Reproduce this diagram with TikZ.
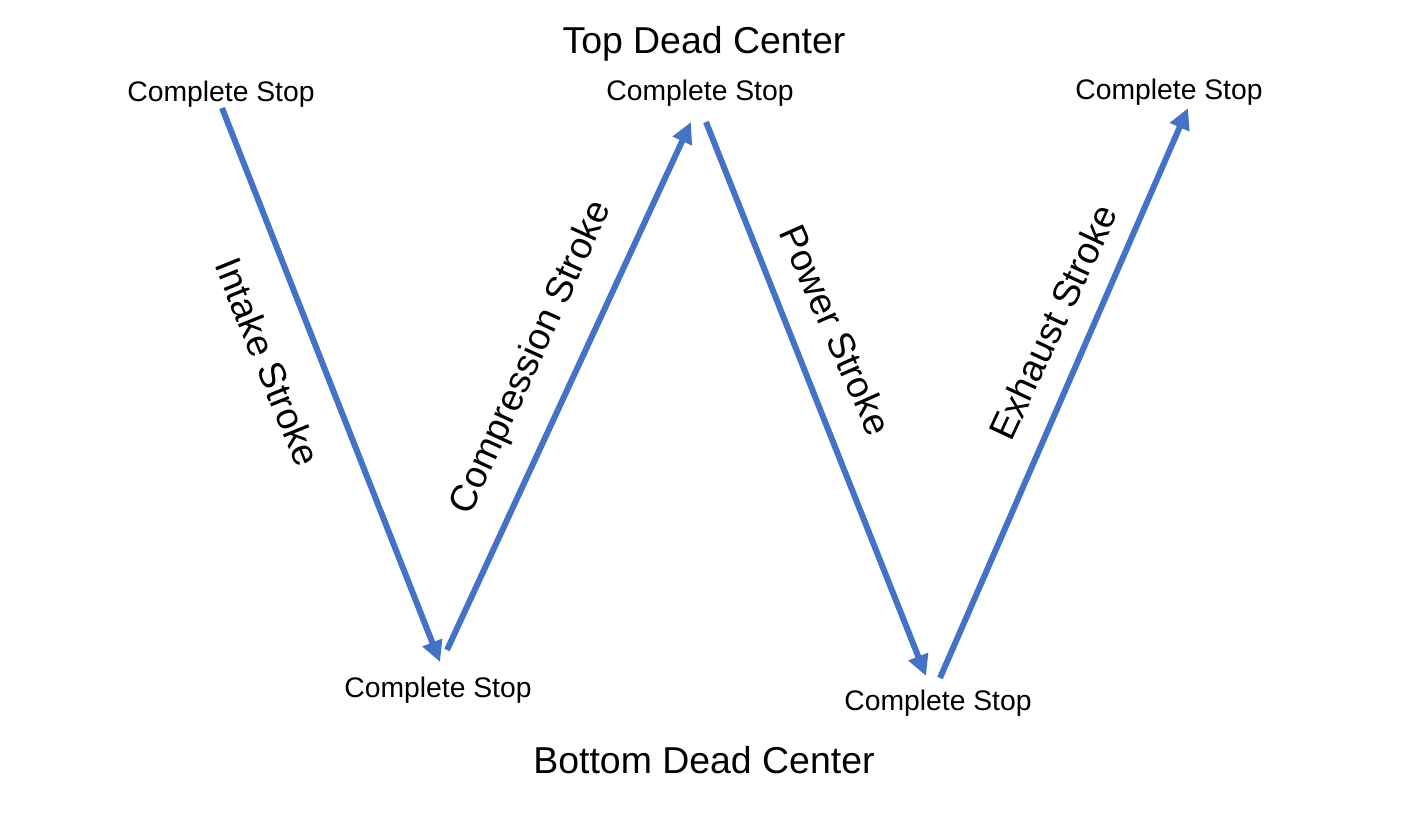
\documentclass[tikz,border=0pt]{standalone}
\usepackage{fontspec}
\setmainfont{Liberation Sans}
\usetikzlibrary{arrows.meta}
\definecolor{strokeblue}{HTML}{4472C4}
\tikzset{
  stroke/.style={draw=strokeblue, line width=0.12cm, -{Triangle[length=0.42cm,width=0.40cm]}},
  stoplabel/.style={font=\fontsize{16.1}{19}\selectfont, inner sep=0pt},
  biglabel/.style={font=\fontsize{21.3}{25}\selectfont, inner sep=0pt}
}
\begin{document}
\begin{tikzpicture}
    \useasboundingbox (0,0) rectangle (28.34,-16.36);

    % Dead centers
    \node[biglabel] (tdc) at (14.08,-0.88) {Top Dead Center};
    \node[biglabel] (bdc) at (14.08,-15.20) {Bottom Dead Center};

    % Stops at the turning points
    \node[stoplabel] (stopA) at (4.42,-1.88) {Complete Stop};
    \node[stoplabel] (stopB) at (8.76,-13.80) {Complete Stop};
    \node[stoplabel] (stopC) at (14.00,-1.86) {Complete Stop};
    \node[stoplabel] (stopD) at (18.76,-14.06) {Complete Stop};
    \node[stoplabel] (stopE) at (23.38,-1.84) {Complete Stop};

    % Arrow end points
    \coordinate (intakeS) at (4.44,-2.16);
    \coordinate (intakeE) at (8.80,-13.24);
    \coordinate (compS) at (8.94,-13.00);
    \coordinate (compE) at (13.82,-2.44);
    \coordinate (powerS) at (14.12,-2.44);
    \coordinate (powerE) at (18.52,-13.52);
    \coordinate (exhS) at (18.80,-13.56);
    \coordinate (exhE) at (23.76,-2.16);

    % Strokes
    \draw[stroke] (intakeS) -- (intakeE);
    \draw[stroke] (compS) -- (compE);
    \draw[stroke] (powerS) -- (powerE);
    \draw[stroke] (exhS) -- (exhE);

    % Stroke names
    \node[biglabel, rotate=-68] (intake) at (5.36,-7.24) {Intake Stroke};
    \node[biglabel, rotate=65.5] (comp) at (10.64,-7.16) {Compression Stroke};
    \node[biglabel, rotate=-66] (power) at (16.72,-6.60) {Power Stroke};
    \node[biglabel, rotate=65] (exh) at (21.06,-6.44) {Exhaust Stroke};
\end{tikzpicture}
\end{document}
